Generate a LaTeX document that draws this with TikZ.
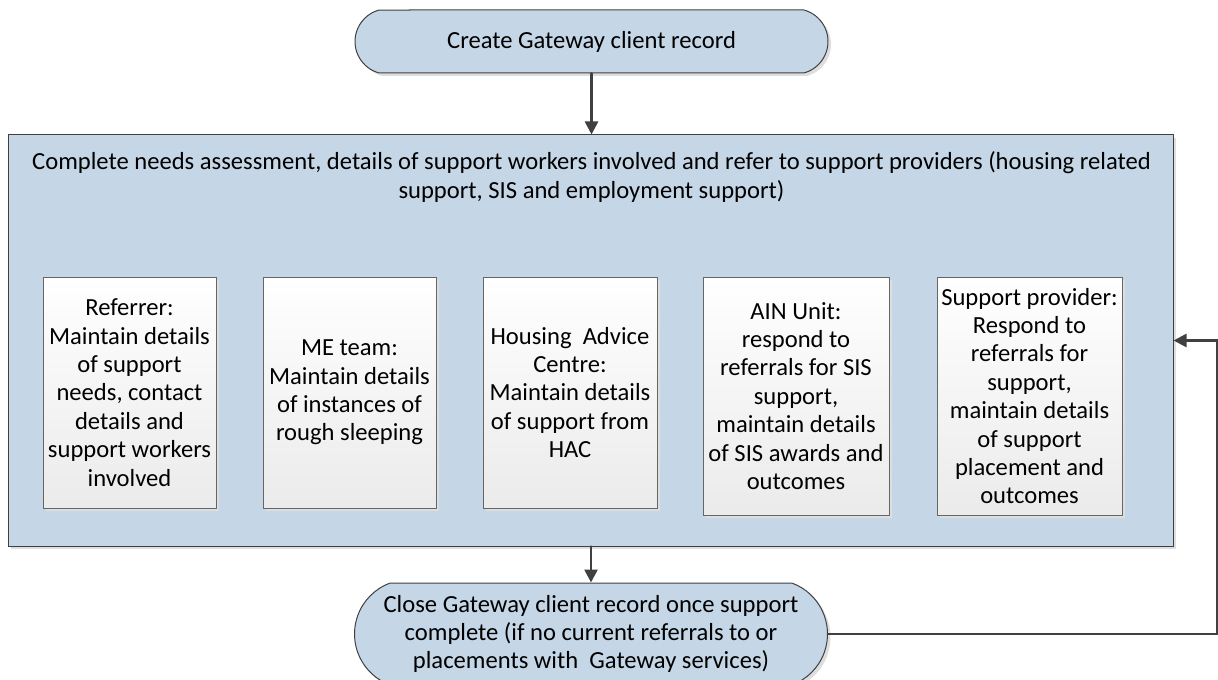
\documentclass[tikz,border=0pt]{standalone}
\usepackage{fontspec}
\setmainfont{Carlito}
\usepackage{xcolor}
\usepackage{tikz}
\usetikzlibrary{arrows.meta, shapes.misc, shadows}
\definecolor{GateBlue}{RGB}{197,214,231}
\definecolor{GateLine}{RGB}{64,64,64}
\newcommand{\gfont}{\fontsize{12.3pt}{14.2pt}\selectfont}

\begin{document}
\begin{tikzpicture}[x=0.5pt, y=-0.5pt, line cap=round,
		lshadow/.style={drop shadow={shadow xshift=1.5pt, shadow yshift=-1.5pt, fill=black!13, opacity=1}},
		terminal/.style={rounded rectangle, draw=GateLine, fill=GateBlue, line width=0.5pt, lshadow,
			font=\gfont, align=center, inner sep=0pt, minimum width=236.5pt},
		stage/.style={rectangle, draw=GateLine, fill=GateBlue, line width=0.5pt, lshadow, inner sep=0pt},
		role/.style={rectangle, draw=GateLine!80, top color=white, bottom color=black!8, line width=0.5pt,
			lshadow, font=\gfont, align=center, inner sep=0pt, minimum height=115.5pt},
		flow/.style={draw=GateLine, line width=1.3pt, -{Triangle[length=6.5pt, width=6.5pt]}}
	]

	\useasboundingbox (0,0) rectangle (1218,679);
	\clip (0,0) rectangle (1218,679);

	\node[terminal, minimum height=31.5pt, rounded rectangle arc length=150] (create) at (591.5,41.5) {Create Gateway client record};

	\node[stage, minimum width=582.5pt, minimum height=205.5pt] (assess) at (590.5,340.5) {};
	\node[font=\gfont, align=center] (heading) at (591.5,177) {Complete needs assessment, details of support workers involved and refer to support providers (housing related\\support, SIS and employment support)};

	\node[role, minimum width=86.5pt] (referrer) at (129.5,392.5) {Referrer:\\Maintain details\\of support\\needs, contact\\details and\\support workers\\involved};
	\node[role, minimum width=86.5pt] (meteam) at (349.5,392.5) {ME team:\\Maintain details\\of instances of\\rough sleeping};
	\node[role, minimum width=87pt] (hac) at (570,392.5) {Housing~ Advice\\Centre:\\Maintain details\\of support from\\HAC};
	\node[role, minimum width=93pt, minimum height=119pt] (ain) at (796,396) {AIN Unit:\\respond to\\referrals for SIS\\support,\\maintain details\\of SIS awards and\\outcomes};
	\node[role, minimum width=92.5pt, minimum height=119pt] (provider) at (1029.5,396) {Support provider:\\Respond to\\referrals for\\support,\\maintain details\\of support\\placement and\\outcomes};

	\node[terminal, minimum height=51pt, rounded rectangle arc length=140] (close) at (591,634) {Close Gateway client record once support\\complete (if no current referrals to or\\placements with~ Gateway services)};

	\coordinate (edge) at (1217,0);

	\draw[flow] (create.south) -- (create.south |- assess.north);
	\draw[flow] (close.north |- assess.south) -- (close.north);
	\draw[flow] (close.east) -- (close.east -| edge) |- (assess.east);

\end{tikzpicture}
\end{document}
